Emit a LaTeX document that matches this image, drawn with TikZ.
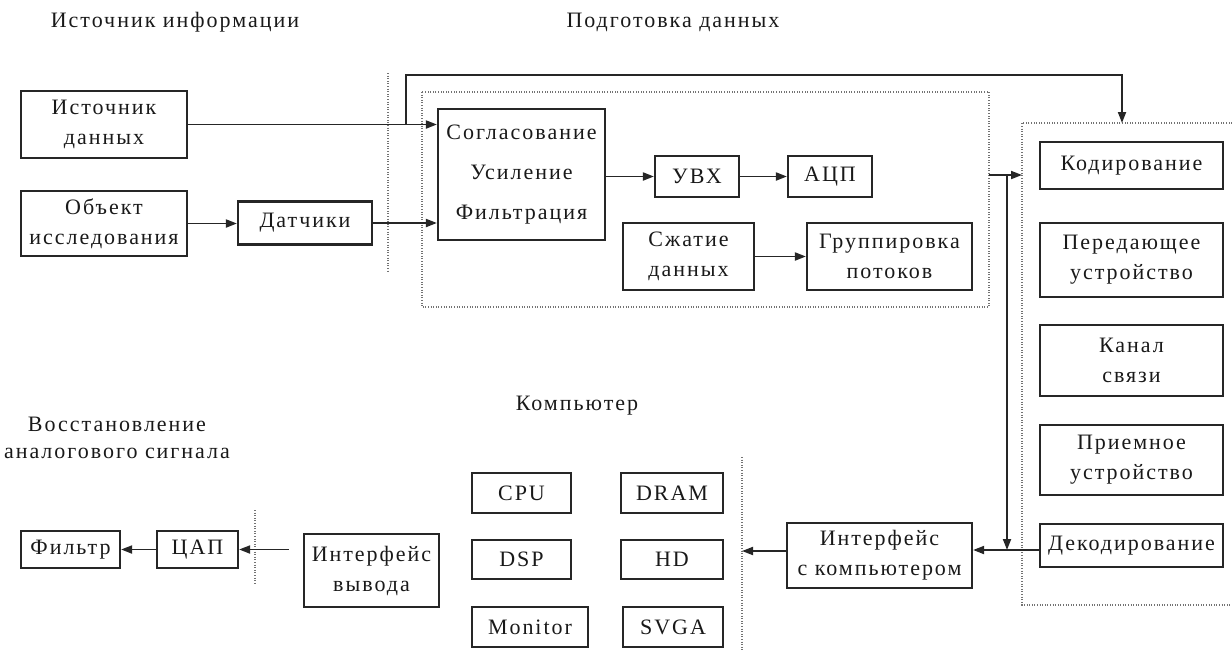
\documentclass[tikz,border=0pt]{standalone}
\usepackage{fontspec}
\setmainfont{Liberation Serif}[LetterSpace=9]
\usetikzlibrary{arrows.meta}
\begin{document}
\begin{tikzpicture}[x=1pt,y=-1pt,
  box/.style={draw=black!85, line width=2.2pt, align=center, inner sep=0pt,
    font=\fontsize{22}{30}\selectfont, text=black!90},
  lbl/.style={align=center, inner sep=0pt, font=\fontsize{22}{27}\selectfont, text=black!90},
  conn/.style={line width=1.9pt, draw=black!85, -{Triangle[length=11pt,width=8pt]}},
  dotline/.style={draw=black!55, line width=1.4pt, dash pattern=on 1pt off 1.6pt}]
\useasboundingbox (0,0) rectangle (1232,654);
% titles
\node[lbl] (t1) at (175,22) {Источник информации};
\node[lbl] (t2) at (673,22) {Подготовка данных};
\node[lbl] (t3) at (117,438) {Восстановление\\аналогового сигнала};
\node[lbl] (t4) at (577,406) {Компьютер};
% dotted frames and separators
\draw[dotline] (422,92) rectangle (989,307);
\draw[dotline] (1240,123) -- (1022,123) -- (1022,605) -- (1240,605);
\draw[dotline] (388,73) -- (388,273);
\draw[dotline] (742,457) -- (742,650);
\draw[dotline] (255,510) -- (255,585);
% boxes
\node[box, minimum width=166pt, minimum height=67pt] (src) at (104,124.5) {Источник\\данных};
\node[box, minimum width=166pt, minimum height=65pt] (obj) at (104,223.5) {Объект\\исследования};
\node[box, minimum width=134pt, minimum height=43pt] (sens) at (305,223) {Датчики};
\node[box, minimum width=167pt, minimum height=131pt, font=\fontsize{22}{40}\selectfont] (cond) at (521.5,174.5) {Согласование\\Усиление\\Фильтрация};
\node[box, minimum width=84pt, minimum height=41pt] (uvx) at (697,176.5) {УВХ};
\node[box, minimum width=84pt, minimum height=41pt] (adc) at (830,176.5) {АЦП};
\node[box, minimum width=131pt, minimum height=67pt] (cmp) at (688.5,256.5) {Сжатие\\данных};
\node[box, minimum width=165pt, minimum height=67pt] (grp) at (889.5,256.5) {Группировка\\потоков};
\node[box, minimum width=183pt, minimum height=47pt] (enc) at (1131.5,165.5) {Кодирование};
\node[box, minimum width=183pt, minimum height=74pt] (tx) at (1131.5,260) {Передающее\\устройство};
\node[box, minimum width=183pt, minimum height=71pt] (ch) at (1131.5,360.5) {Канал\\связи};
\node[box, minimum width=183pt, minimum height=70pt] (rx) at (1131.5,460) {Приемное\\устройство};
\node[box, minimum width=183pt, minimum height=43pt] (dec) at (1131.5,545.5) {Декодирование};
\node[box, minimum width=185pt, minimum height=65pt] (ifc) at (879.5,555.5) {Интерфейс\\с компьютером};
\node[box, minimum width=99pt, minimum height=40pt] (cpu) at (521.5,493) {CPU};
\node[box, minimum width=102pt, minimum height=40pt] (dram) at (672,493) {DRAM};
\node[box, minimum width=99pt, minimum height=39pt] (dsp) at (521.5,559.5) {DSP};
\node[box, minimum width=102pt, minimum height=39pt] (hd) at (672,559.5) {HD};
\node[box, minimum width=116pt, minimum height=40pt] (mon) at (530,627) {Monitor};
\node[box, minimum width=100pt, minimum height=40pt] (svga) at (673,627) {SVGA};
\node[box, minimum width=135pt, minimum height=73pt] (ifo) at (371.5,570.5) {Интерфейс\\вывода};
\node[box, minimum width=81pt, minimum height=37pt] (dac) at (197.5,549.5) {ЦАП};
\node[box, minimum width=99pt, minimum height=37pt] (flt) at (70.5,549.5) {Фильтр};
% helper coordinates
\coordinate (fb) at (406,124.5);
\coordinate (fbtop) at (406,75);
\coordinate (chtop) at (1122,123);
\coordinate (prepout) at (989,175);
\coordinate (chin) at (1022,175);
\coordinate (vsplit) at (1007,175);
\coordinate (vend) at (1007,550);
\coordinate (cmpin) at (742,551);
% connectors
\draw[conn] (src.east) -- (src.east -| cond.west);
\draw[conn] (fb) -- (fbtop) -| (chtop);
\draw[conn] (obj.east) -- (obj.east -| sens.west);
\draw[conn] (sens.east) -- (sens.east -| cond.west);
\draw[conn] (cond.east |- uvx.west) -- (uvx.west);
\draw[conn] (uvx.east) -- (adc.west);
\draw[conn] (cmp.east) -- (grp.west);
\draw[conn] (prepout) -- (chin);
\draw[conn] (vsplit) -- (vend);
\draw[conn] ([yshift=-4.5pt]dec.west) -- ([yshift=-4.5pt]dec.west -| ifc.east);
\draw[conn] (ifc.west |- cmpin) -- (cmpin);
\draw[conn, shorten <=14pt] (ifo.west |- dac.east) -- (dac.east);
\draw[conn] (dac.west) -- (flt.east);
\end{tikzpicture}
\end{document}
